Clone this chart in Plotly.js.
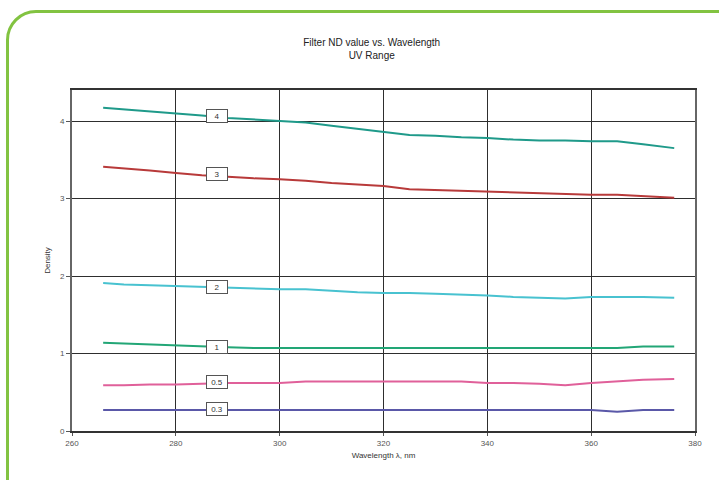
<!DOCTYPE html>
<html>
<head>
<meta charset="utf-8">
<script src="https://cdn.plot.ly/plotly-3.0.1.min.js"></script>
<style>
  html, body { margin: 0; padding: 0; background: #ffffff; width: 719px; height: 480px; overflow: hidden; }
  #frame { position: absolute; left: 6px; top: 10px; width: 820px; height: 600px; border: 3px solid #82c341; border-radius: 30px; box-sizing: border-box; }
  #chart { position: absolute; left: 0; top: 0; width: 719px; height: 480px; }
</style>
</head>
<body>
<div id="frame"></div>
<div id="chart"></div>
<script>
const wavelength = [266, 270, 275, 280, 285, 290, 295, 300, 305, 310, 315, 320, 325, 330, 335, 340, 345, 350, 355, 360, 365, 370, 376];
const nd4  = [4.17, 4.15, 4.13, 4.10, 4.07, 4.04, 4.02, 4.00, 3.98, 3.94, 3.90, 3.86, 3.82, 3.81, 3.79, 3.78, 3.76, 3.75, 3.75, 3.74, 3.74, 3.70, 3.65];
const nd3  = [3.41, 3.39, 3.36, 3.33, 3.30, 3.28, 3.26, 3.25, 3.23, 3.20, 3.18, 3.16, 3.12, 3.11, 3.10, 3.09, 3.08, 3.07, 3.06, 3.05, 3.05, 3.03, 3.01];
const nd2  = [1.91, 1.89, 1.88, 1.87, 1.86, 1.85, 1.84, 1.83, 1.83, 1.81, 1.79, 1.78, 1.78, 1.77, 1.76, 1.75, 1.73, 1.72, 1.71, 1.73, 1.73, 1.73, 1.72];
const nd1  = [1.14, 1.13, 1.11, 1.10, 1.09, 1.08, 1.07, 1.07, 1.07, 1.07, 1.07, 1.07, 1.07, 1.07, 1.07, 1.07, 1.07, 1.07, 1.07, 1.07, 1.07, 1.09, 1.09];
const nd05 = [0.59, 0.59, 0.60, 0.60, 0.61, 0.62, 0.62, 0.62, 0.64, 0.64, 0.64, 0.64, 0.64, 0.64, 0.64, 0.62, 0.62, 0.61, 0.59, 0.62, 0.64, 0.66, 0.67];
const nd03 = [0.27, 0.27, 0.27, 0.27, 0.27, 0.27, 0.27, 0.27, 0.27, 0.27, 0.27, 0.27, 0.27, 0.27, 0.27, 0.27, 0.27, 0.27, 0.27, 0.27, 0.25, 0.27, 0.27];

const seriesNames = ["4", "3", "2", "1", "0.5", "0.3"];
const seriesValues = [nd4, nd3, nd2, nd1, nd05, nd03];
const seriesColors = ["#1f9a8a", "#b83a3a", "#48c2d0", "#22a676", "#e0609a", "#5a58a8"];
const labelX = 288;
const labelY = [4.07, 3.31, 1.86, 1.09, 0.63, 0.28];

const xTicks = [260, 280, 300, 320, 340, 360, 380];
const yTicks = [0, 1, 2, 3, 4];

const traces = seriesValues.map((vals, i) => ({
  x: wavelength, y: vals, type: "scatter", mode: "lines", name: seriesNames[i],
  line: { color: seriesColors[i], width: 2 }, hoverinfo: "x+y"
}));

const annotations = seriesNames.map((n, i) => ({
  x: labelX, y: labelY[i], xref: "x", yref: "y", text: n, showarrow: false,
  bgcolor: "#ffffff", bordercolor: "#555555", borderwidth: 1, borderpad: 1,
  font: { family: "Arial, Liberation Sans, sans-serif", size: 8, color: "#333" },
  width: 18, height: 10
}));

const layout = {
  width: 719, height: 480,
  margin: { l: 72, r: 24, t: 90, b: 49 },
  paper_bgcolor: "rgba(0,0,0,0)",
  plot_bgcolor: "#ffffff",
  showlegend: false,
  title: {
    text: "Filter ND value vs. Wavelength<br>UV Range",
    x: 0.517, xanchor: "center", y: 0.905, yanchor: "middle", yref: "container",
    font: { family: "Liberation Sans Narrow, Arial, sans-serif", size: 10, color: "#222" }
  },
  xaxis: {
    range: [260, 380], tickvals: xTicks, ticktext: xTicks.map(String),
    showgrid: true, gridcolor: "#2e2e2e", gridwidth: 1,
    zeroline: false, showline: true, linecolor: "#333", linewidth: 2, mirror: true,
    ticks: "outside", ticklen: 3, tickcolor: "#555",
    tickfont: { family: "Arial, Liberation Sans, sans-serif", size: 8, color: "#555" },
    title: { text: "Wavelength λ, nm", standoff: 6,
      font: { family: "Liberation Sans Narrow, Arial, sans-serif", size: 8, color: "#333" } }
  },
  yaxis: {
    range: [0, 4.4], tickvals: yTicks, ticktext: yTicks.map(String),
    showgrid: true, gridcolor: "#2e2e2e", gridwidth: 1,
    zeroline: false, showline: true, linecolor: "#666", linewidth: 2, mirror: true,
    ticks: "outside", ticklen: 4, tickcolor: "#555",
    tickfont: { family: "Arial, Liberation Sans, sans-serif", size: 8, color: "#555" },
    title: { text: "Density", standoff: 8,
      font: { family: "Liberation Sans Narrow, Arial, sans-serif", size: 8, color: "#333" } }
  },
  annotations: annotations
};

Plotly.newPlot("chart", traces, layout, { displayModeBar: false, staticPlot: true });
</script>
</body>
</html>
